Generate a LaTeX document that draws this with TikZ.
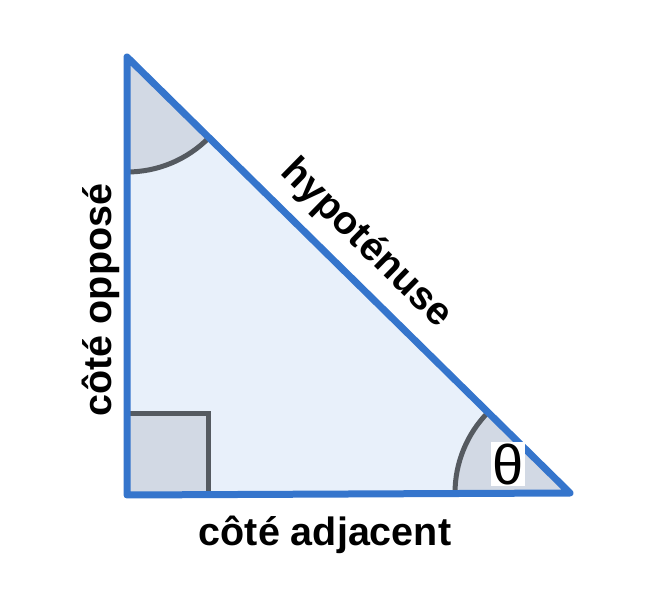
\documentclass[tikz,border=0pt]{standalone}
\usepackage{fontspec}
\setmainfont{Liberation Sans}
\begin{document}
\begin{tikzpicture}[x=1pt,y=1pt,
  edge/.style={draw=triblue,line width=7pt,line join=round,line cap=round},
  anglemark/.style={draw=markgray,line width=5pt},
  lab/.style={font=\fontsize{39.5}{42}\selectfont\bfseries,inner sep=0pt}]
\definecolor{triblue}{HTML}{3575CC}
\definecolor{trifill}{HTML}{E8F0FA}
\definecolor{secfill}{HTML}{D2D9E4}
\definecolor{markgray}{HTML}{555A60}
\useasboundingbox (0,0) rectangle (653,605);
\coordinate (T) at (127,548);
\coordinate (B) at (127,110);
\coordinate (R) at (570,112);
\fill[trifill] (T) -- (B) -- (R) -- cycle;
% top angle sector
\fill[secfill] (T) -- ++(-90:115) arc[start angle=-90,end angle=-44.5,radius=115] -- cycle;
\draw[anglemark] (T) ++(-90:115) arc[start angle=-90,end angle=-44.5,radius=115];
% right angle sector
\fill[secfill] (R) -- ++(180:115) arc[start angle=180,end angle=135.5,radius=115] -- cycle;
\draw[anglemark] (R) ++(180:115) arc[start angle=180,end angle=135.5,radius=115];
% right-angle square
\fill[secfill] (B) rectangle ++(81,81);
\draw[anglemark] (B) ++(0,81) -- ++(81,0) -- ++(0,-81);
% triangle outline
\draw[edge] (T) -- (B) -- (R) -- cycle;
% labels
\node[fill=white,inner sep=1pt,font=\fontsize{56}{58}\selectfont] (th) at (508,141) {θ};
\node[lab] (adj) at (325,70) {côté adjacent};
\node[lab,rotate=90] (opp) at (101,305) {côté opposé};
\node[lab,rotate=-44.5] (hyp) at (366,361) {hypoténuse};
\end{tikzpicture}
\end{document}
